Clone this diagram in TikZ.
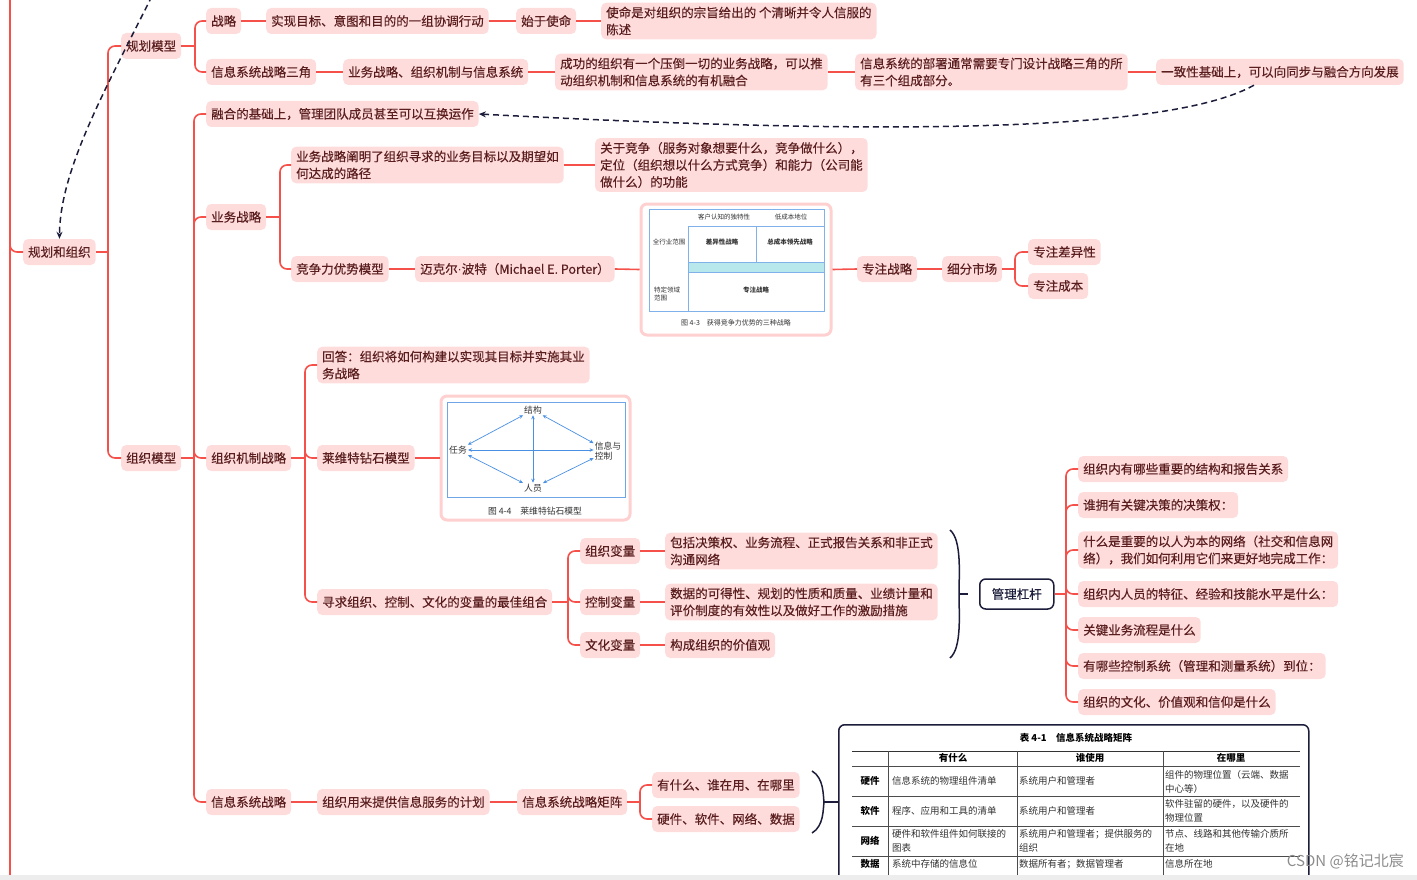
\documentclass[tikz,border=0pt]{standalone}
\usepackage{fontspec}
\setmainfont{Noto Sans CJK SC}
\newfontfamily\boxfont{Noto Sans CJK SC}[BoldFont={Noto Sans CJK SC}, BoldFeatures={FakeBold=0.35}]
\newfontfamily\latf{Liberation Sans}
\usetikzlibrary{arrows.meta}
\definecolor{cPink}{HTML}{FFDCDC}
\definecolor{cLine}{HTML}{F5504A}
\definecolor{cText}{HTML}{5A1E1E}
\definecolor{cNavy}{HTML}{1C1D3A}
\definecolor{cBlue}{HTML}{4A90E2}
\definecolor{cCyan}{HTML}{B8E8EC}
\definecolor{cFig}{HTML}{FFD0D0}
\definecolor{cGrayT}{HTML}{333333}
\begin{document}
\begin{tikzpicture}[x=1pt,y=-1pt,
  bx/.style={fill=cPink, rounded corners=5pt, text=cText, font=\boxfont\bfseries\fontsize{12.5}{17}\selectfont, inner xsep=5pt, inner ysep=4pt, minimum height=26pt, anchor=west, align=left},
  conn/.style={draw=cLine, line width=1.6pt, rounded corners=7pt},
  dsh/.style={draw=cNavy, line width=1.5pt, dash pattern=on 6pt off 4pt, -{Stealth[length=7pt,width=6pt]}},
  fig/.style={draw=cFig, line width=3pt, fill=white, rounded corners=6pt, inner sep=0pt},
  glb/.style={draw=cNavy, line width=1.5pt, fill=white, rounded corners=6pt, text=cNavy, font=\boxfont\bfseries\fontsize{12.5}{15}\selectfont, inner xsep=12pt, minimum height=30pt, anchor=west},
  brc/.style={draw=cNavy, line width=1.5pt},
  flab/.style={text=cGrayT, inner sep=1pt, align=left},
  darr/.style={draw=cBlue, line width=0.7pt, {Stealth[length=4pt,width=3.5pt]}-{Stealth[length=4pt,width=3.5pt]}},
  tcell/.style={text=cGrayT, font=\fontsize{9.5}{14}\selectfont, anchor=west, align=left, inner sep=0pt},
  thd/.style={text=black, font=\fontsize{9.5}{12}\selectfont\bfseries, inner sep=0pt},
]
\useasboundingbox (0,0) rectangle (1417,880);

% ---------- nodes ----------
\node[bx] (root) at (23,252) {规划和组织};
\node[bx] (ghmx) at (121,46) {规划模型};
\node[bx] (zzmx) at (121,458) {组织模型};

\node[bx] (zl) at (206,21) {战略};
\node[bx] (sx) at (266,21) {实现目标、意图和目的的一组协调行动};
\node[bx] (sysm) at (516,21) {始于使命};
\node[bx] (smds) at (601,21) {使命是对组织的宗旨给出的 个清晰并令人信服的\\陈述};

\node[bx] (sj) at (206,72) {信息系统战略三角};
\node[bx] (ywzz) at (343,72) {业务战略、组织机制与信息系统};
\node[bx] (cg) at (555,72) {成功的组织有一个压倒一切的业务战略，可以推\\动组织机制和信息系统的有机融合};
\node[bx] (bs) at (855,72) {信息系统的部署通常需要专门设计战略三角的所\\有三个组成部分。};
\node[bx] (yz) at (1156,72) {一致性基础上，可以向同步与融合方向发展};

\node[bx] (rh) at (206,114) {融合的基础上，管理团队成员甚至可以互换运作};
\node[bx] (ywzl) at (206,217) {业务战略};
\node[bx] (ywcm) at (291,165) {业务战略阐明了组织寻求的业务目标以及期望如\\何达成的路径};
\node[bx] (gyjz) at (595,165) {关于竞争（服务对象想要什么，竞争做什么），\\定位（组织想以什么方式竞争）和能力（公司能\\做什么）的功能};
\node[bx] (jzl) at (291,269) {竞争力优势模型};
\node[bx] (mke) at (415,269) {迈克尔{\latf\mdseries ·}波特（Michael E. Porter）};
\node[fig, minimum width=190pt, minimum height=131pt] (f43) at (736,269.5) {};
\node[bx] (zzzl) at (857,269) {专注战略};
\node[bx] (xfsc) at (942,269) {细分市场};
\node[bx] (zzcy) at (1028,252) {专注差异性};
\node[bx] (zzcb) at (1028,286) {专注成本};

\node[bx] (zzjz) at (206,458) {组织机制战略};
\node[bx] (hd) at (317,365) {回答：组织将如何构建以实现其目标并实施其业\\务战略};
\node[bx] (lwt) at (317,458) {莱维特钻石模型};
\node[fig, minimum width=189pt, minimum height=124pt] (f44) at (535.5,458) {};
\node[bx] (xq) at (317,602) {寻求组织、控制、文化的变量的最佳组合};
\node[bx] (zzbl) at (580,551) {组织变量};
\node[bx] (kzbl) at (580,602) {控制变量};
\node[bx] (whbl) at (580,645) {文化变量};
\node[bx] (bk) at (665,551) {包括决策权、业务流程、正式报告关系和非正式\\沟通网络};
\node[bx] (sjkd) at (665,602) {数据的可得性、规划的性质和质量、业绩计量和\\评价制度的有效性以及做好工作的激励措施};
\node[bx] (gc) at (665,645) {构成组织的价值观};

\node[glb] (glgg) at (979,594) {管理杠杆};
\node[bx] (q1) at (1078,469) {组织内有哪些重要的结构和报告关系};
\node[bx] (q2) at (1078,505) {谁拥有关键决策的决策权：};
\node[bx] (q3) at (1078,550) {什么是重要的以人为本的网络（社交和信息网\\络），我们如何利用它们来更好地完成工作：};
\node[bx] (q4) at (1078,594) {组织内人员的特征、经验和技能水平是什么：};
\node[bx] (q5) at (1078,630) {关键业务流程是什么};
\node[bx] (q6) at (1078,666) {有哪些控制系统（管理和测量系统）到位：};
\node[bx] (q7) at (1078,702) {组织的文化、价值观和信仰是什么};

\node[bx] (xxzl) at (206,802) {信息系统战略};
\node[bx] (zzyl) at (317,802) {组织用来提供信息服务的计划};
\node[bx] (jz) at (517,802) {信息系统战略矩阵};
\node[bx] (ysm) at (652,785) {有什么、谁在用、在哪里};
\node[bx] (yj) at (652,819) {硬件、软件、网络、数据};

\node[draw=cNavy, line width=1.5pt, rounded corners=6pt, fill=white, minimum width=470pt, minimum height=170pt, inner sep=0pt, anchor=north west] (tbl) at (838,724) {};

% ---------- trunk lines ----------
\coordinate (T0) at (10,-5);
\coordinate (T1) at (10,885);
\coordinate (T2) at (10,238);
\draw[conn] (T0) -- (T1);
\draw[conn] (T2) |- (root.west);

\coordinate (J1) at (108,252);
\draw[conn] (root.east) -- (J1);
\foreach \c in {ghmx,zzmx} \draw[conn] (J1) |- (\c.west);

\coordinate (J2) at (195,46);
\draw[conn] (ghmx.east) -- (J2);
\foreach \c in {zl,sj} \draw[conn] (J2) |- (\c.west);

\coordinate (J3) at (194,458);
\draw[conn] (zzmx.east) -- (J3);
\foreach \c in {rh,ywzl,zzjz,xxzl} \draw[conn] (J3) |- (\c.west);

\coordinate (J4) at (280,217);
\draw[conn] (ywzl.east) -- (J4);
\foreach \c in {ywcm,jzl} \draw[conn] (J4) |- (\c.west);

\coordinate (J5) at (1015,269);
\draw[conn] (xfsc.east) -- (J5);
\foreach \c in {zzcy,zzcb} \draw[conn] (J5) |- (\c.west);

\coordinate (J6) at (305,458);
\draw[conn] (zzjz.east) -- (J6);
\foreach \c in {hd,lwt,xq} \draw[conn] (J6) |- (\c.west);

\coordinate (J7) at (568,602);
\draw[conn] (xq.east) -- (J7);
\foreach \c in {zzbl,kzbl,whbl} \draw[conn] (J7) |- (\c.west);

\coordinate (J8) at (1066,594);
\draw[conn] (glgg.east) -- (J8);
\foreach \c in {q1,q2,q3,q4,q5,q6,q7} \draw[conn] (J8) |- (\c.west);

\coordinate (J9) at (640,802);
\draw[conn] (jz.east) -- (J9);
\foreach \c in {ysm,yj} \draw[conn] (J9) |- (\c.west);

% chains
\draw[conn] (zl.east) -- (sx.west);
\draw[conn] (sx.east) -- (sysm.west);
\draw[conn] (sysm.east) -- (smds.west);
\draw[conn] (sj.east) -- (ywzz.west);
\draw[conn] (ywzz.east) -- (cg.west);
\draw[conn] (cg.east) -- (bs.west);
\draw[conn] (bs.east) -- (yz.west);
\draw[conn] (ywcm.east) -- (gyjz.west);
\draw[conn] (jzl.east) -- (mke.west);
\draw[conn] (mke.east) -- (f43.west);
\draw[conn] (f43.east) -- (zzzl.west);
\draw[conn] (zzzl.east) -- (xfsc.west);
\draw[conn] (lwt.east) -- (f44.west);
\draw[conn] (zzbl.east) -- (bk.west);
\draw[conn] (kzbl.east) -- (sjkd.west);
\draw[conn] (whbl.east) -- (gc.west);
\draw[conn] (xxzl.east) -- (zzyl.west);
\draw[conn] (zzyl.east) -- (jz.west);

% ---------- dashed arrows ----------
\coordinate (D0) at (152,-4);
\draw[dsh] (D0) .. controls (105,90) and (60,170) .. (root.north);
\draw[dsh] ([xshift=-26pt]yz.south) .. controls (1160,138) and (820,132) .. (rh.east);

% ---------- braces ----------
\coordinate (B1t) at (950,530);
\coordinate (B1m) at (959,594);
\coordinate (B1b) at (950,658);
\coordinate (B1k) at (968,594);
\draw[brc] (B1t) .. controls (962,540) and (959,575) .. (B1m) .. controls (959,613) and (962,648) .. (B1b);
\draw[brc] (B1m) -- (B1k);

\coordinate (B2t) at (812,771);
\coordinate (B2m) at (824,802);
\coordinate (B2b) at (812,833);
\draw[brc] (B2t) .. controls (824,778) and (823,795) .. (B2m) .. controls (823,809) and (824,826) .. (B2b);
\draw[brc] (B2m) -- (B2m -| tbl.west);

% ---------- figure 4-3 ----------
\begin{scope}[font=\fontsize{6.5}{8}\selectfont]
\fill[cCyan] (688,262) rectangle (824,272);
\draw[cBlue!70, line width=0.8pt] (649,209) rectangle (824,311);
\draw[cBlue!70, line width=0.6pt] (688,226) -- (824,226) (688,226) -- (688,311) (756,226) -- (756,262) (688,262) -- (824,262) (688,272) -- (824,272);
\node[flab] (h1) at (724,217) {客户认知的独特性};
\node[flab] (h2) at (791,217) {低成本地位};
\node[flab] (r1) at (669,242) {全行业范围};
\node[flab, font=\fontsize{6.5}{8}\selectfont\bfseries] (c1) at (722,242) {差异性战略};
\node[flab, font=\fontsize{6.5}{8}\selectfont\bfseries] (c2) at (790,242) {总成本领先战略};
\node[flab] (r2) at (667,294) {特定领域\\范围};
\node[flab, font=\fontsize{6.5}{8}\selectfont\bfseries] (c3) at (756,290) {专注战略};
\node[flab, font=\fontsize{7}{8.5}\selectfont] (cap43) at (736,323) {图 4-3　获得竞争力优势的三种战略};
\end{scope}

% ---------- figure 4-4 ----------
\begin{scope}[font=\fontsize{8.8}{10.5}\selectfont]
\draw[cBlue!80, line width=1pt] (447,402) rectangle (625,497);
\node[flab] (jg) at (533,410) {结构};
\node[flab] (rw) at (458,450) {任务};
\node[flab] (xk) at (608,451) {信息与\\控制};
\node[flab] (ry) at (533,488) {人员};
\draw[darr] (jg) -- (rw);
\draw[darr] (jg) -- (xk);
\draw[darr] (rw) -- (ry);
\draw[darr] (ry) -- (xk);
\draw[darr] (rw) -- (rw -| xk.west);
\draw[darr] (jg) -- (ry);
\node[flab, font=\fontsize{8.8}{10.5}\selectfont] (cap44) at (535,511) {图 4-4　莱维特钻石模型};
\end{scope}

% ---------- table 4-1 ----------
\node[thd] (ttl) at (1076,738) {表 4-1　信息系统战略矩阵};
\draw[black!80, line width=1pt] (852,751) -- (1300,751);
\draw[black!70, line width=0.5pt] (852,766) -- (1300,766) (852,796) -- (1300,796) (852,826) -- (1300,826) (852,856) -- (1300,856);
\draw[black!70, line width=0.5pt] (888,751) -- (888,880) (1017,751) -- (1017,880) (1163,751) -- (1163,880);
\node[thd] (th1) at (953,758) {有什么};
\node[thd] (th2) at (1090,758) {谁使用};
\node[thd] (th3) at (1231,758) {在哪里};
\node[thd] (rl1) at (870,781) {硬件};
\node[thd] (rl2) at (870,811) {软件};
\node[thd] (rl3) at (870,841) {网络};
\node[thd] (rl4) at (870,864) {数据};
\node[tcell] (a1) at (892,781) {信息系统的物理组件清单};
\node[tcell] (b1) at (1019,781) {系统用户和管理者};
\node[tcell] (c1t) at (1165,782) {组件的物理位置（云端、数据\\中心等）};
\node[tcell] (a2) at (892,811) {程序、应用和工具的清单};
\node[tcell] (b2) at (1019,811) {系统用户和管理者};
\node[tcell] (c2t) at (1165,811) {软件驻留的硬件，以及硬件的\\物理位置};
\node[tcell] (a3) at (892,841) {硬件和软件组件如何联接的\\图表};
\node[tcell] (b3) at (1019,841) {系统用户和管理者；提供服务的\\组织};
\node[tcell] (c3t) at (1165,841) {节点、线路和其他传输介质所\\在地};
\node[tcell] (a4) at (892,864) {系统中存储的信息位};
\node[tcell] (b4) at (1019,864) {数据所有者；数据管理者};
\node[tcell] (c4t) at (1165,864) {信息所在地};

% ---------- bottom strip and watermark ----------
\fill[black!7] (0,875) rectangle (1417,880);
\node[text=black!45, font=\fontsize{15}{15}\selectfont, anchor=east, inner sep=0pt] (wm) at (1404,861) {CSDN @铭记北宸};
\end{tikzpicture}
\end{document}
